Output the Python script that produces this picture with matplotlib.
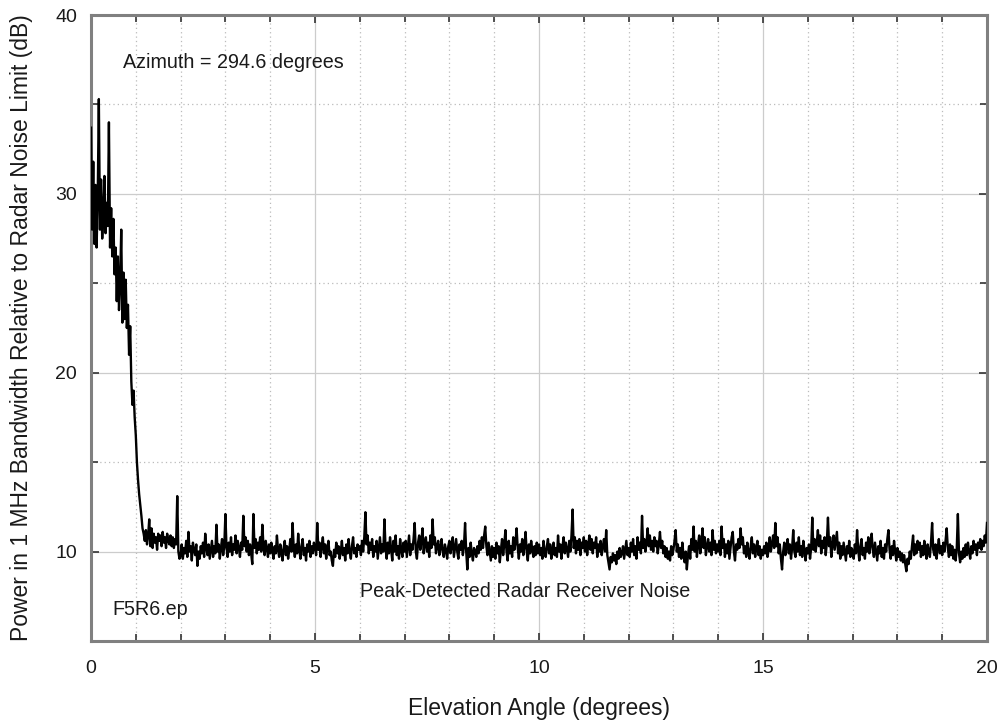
import numpy as np
import matplotlib
matplotlib.use("Agg")
import matplotlib.pyplot as plt
from matplotlib.ticker import MultipleLocator, FixedLocator

# Measured power (dB) sampled every 0.025 degrees from 0 to 20 degrees
power_db = [
    # 0.0 - 0.975
    33.7, 28.0, 31.8, 27.2, 30.5, 27.0, 29.8, 35.3, 28.0, 30.8,
    27.5, 29.0, 31.0, 27.8, 29.5, 28.2, 34.0, 27.0, 29.2, 26.5,
    28.6, 25.5, 27.0, 24.0, 26.5, 23.5, 25.0, 28.0, 22.8, 25.6,
    23.0, 25.2, 22.5, 23.8, 21.0, 22.6, 19.5, 18.2, 19.0, 17.5,
    # 1.0 - 1.975
    16.5, 15.0, 14.0, 13.2, 12.6, 12.0, 11.3, 11.0, 10.6, 11.2,
    10.4, 10.9, 11.8, 10.3, 11.3, 10.2, 11.0, 10.5, 10.8, 10.1,
    11.0, 10.6, 10.9, 10.3, 11.1, 10.5, 10.8, 10.2, 11.0, 10.6,
    10.4, 10.9, 10.3, 10.8, 10.2, 10.7, 10.4, 13.1, 10.0, 9.6,
    # 2.0 - 2.975
    9.8, 10.4, 9.6, 10.2, 9.9, 10.6, 9.7, 11.1, 10.0, 10.3,
    9.5, 10.5, 10.1, 9.8, 10.4, 9.2, 10.0, 9.6, 10.3, 9.9,
    10.5, 9.7, 11.0, 10.2, 9.8, 10.4, 9.6, 10.1, 10.6, 9.7,
    10.3, 9.9, 11.5, 10.0, 10.4, 9.6, 10.2, 10.7, 9.8, 10.3,
    # 3.0 - 3.975
    12.1, 10.2, 9.7, 10.5, 10.0, 10.8, 9.8, 10.4, 10.1, 10.9,
    9.9, 10.6, 10.2, 9.7, 10.5, 10.1, 12.0, 10.3, 10.8, 10.0,
    10.6, 9.8, 10.4, 9.9, 9.3, 12.1, 10.2, 10.7, 9.9, 10.5,
    10.1, 10.8, 10.0, 11.5, 10.3, 9.8, 10.6, 10.2, 9.7, 10.4,
    # 4.0 - 4.975
    9.9, 10.5, 10.0, 9.6, 10.3, 9.9, 10.9, 10.1, 9.7, 10.4,
    10.0, 9.5, 10.2, 10.6, 9.8, 10.3, 9.6, 10.1, 10.7, 10.0,
    11.6, 10.2, 9.7, 10.4, 9.9, 11.0, 10.1, 9.6, 10.3, 10.7,
    9.8, 10.2, 9.5, 10.4, 10.0, 10.6, 9.7, 10.3, 9.9, 10.5,
    # 5.0 - 5.975
    10.2, 9.8, 11.6, 10.1, 10.5, 9.7, 10.3, 10.8, 9.9, 10.4,
    9.6, 10.2, 10.6, 9.8, 10.0, 9.5, 9.2, 10.1, 9.7, 10.5,
    9.9, 10.3, 9.6, 10.0, 10.6, 9.8, 10.2, 9.5, 10.4, 9.9,
    10.7, 10.0, 9.6, 10.3, 10.8, 9.9, 10.2, 9.7, 10.4, 10.1,
    # 6.0 - 6.975
    10.3, 9.8, 10.6, 10.0, 10.8, 12.2, 10.4, 10.9, 9.9, 10.5,
    10.1, 10.7, 9.7, 10.3, 10.0, 10.6, 9.6, 10.2, 10.8, 9.9,
    10.4, 10.0, 11.8, 10.2, 9.6, 10.5, 9.9, 10.8, 10.1, 9.5,
    10.6, 10.0, 10.9, 9.8, 10.3, 9.6, 10.7, 10.1, 9.7, 10.5,
    # 7.0 - 7.975
    10.0, 10.6, 9.7, 10.3, 10.9, 9.8, 10.4, 10.1, 10.7, 11.6,
    10.0, 9.6, 10.5, 10.9, 10.1, 10.6, 11.3, 9.9, 10.4, 10.8,
    10.0, 10.5, 9.7, 10.9, 10.2, 11.8, 10.4, 10.8, 9.9, 10.3,
    10.6, 9.8, 10.2, 10.7, 10.0, 9.7, 10.4, 10.1, 9.6, 10.3,
    # 8.0 - 8.975
    10.6, 9.9, 10.3, 10.8, 9.7, 10.2, 10.7, 10.0, 9.6, 10.4,
    10.1, 10.6, 9.8, 10.3, 11.6, 10.0, 9.0, 10.2, 9.7, 10.5,
    9.9, 9.5, 10.2, 10.0, 9.7, 10.3, 9.9, 10.6, 10.1, 10.8,
    10.2, 10.9, 11.4, 10.3, 9.8, 10.5, 10.0, 9.5, 10.3, 9.7,
    # 9.0 - 9.975
    10.2, 9.6, 10.5, 9.9, 10.3, 9.4, 10.1, 10.7, 9.8, 10.4,
    11.2, 10.0, 9.5, 10.6, 9.9, 10.3, 9.7, 10.8, 10.1, 10.5,
    11.3, 10.2, 9.6, 10.4, 10.0, 10.7, 9.8, 10.3, 11.1, 10.0,
    9.5, 10.4, 9.9, 10.6, 10.1, 9.7, 10.3, 9.8, 10.5, 9.9,
    # 10.0 - 10.975
    10.4, 9.8, 10.2, 9.6, 10.6, 10.0, 9.7, 10.3, 10.7, 9.9,
    10.4, 9.6, 10.1, 10.5, 9.8, 10.2, 9.7, 10.9, 10.0, 10.4,
    9.6, 10.3, 10.8, 9.9, 10.5, 10.1, 9.7, 10.6, 10.0, 10.9,
    12.35, 10.2, 10.8, 9.9, 10.6, 10.1, 10.7, 9.8, 10.5, 10.2,
    # 11.0 - 11.975
    10.8, 10.0, 10.6, 9.8, 10.4, 10.9, 10.1, 10.7, 9.9, 10.5,
    10.2, 10.8, 9.7, 10.4, 10.0, 10.6, 9.8, 10.3, 10.7, 10.0,
    11.2, 9.8, 9.4, 9.0, 9.7, 9.4, 9.9, 9.5, 9.8, 9.3,
    10.0, 9.6, 10.2, 9.7, 9.9, 10.3, 9.6, 10.1, 10.6, 9.8,
    # 12.0 - 12.975
    10.2, 9.7, 10.5, 10.0, 10.7, 9.8, 10.3, 9.6, 10.8, 10.1,
    10.5, 9.9, 12.0, 10.2, 10.7, 10.0, 10.5, 11.3, 10.3, 10.9,
    10.1, 10.6, 10.0, 10.8, 10.3, 10.6, 9.9, 10.4, 11.1, 10.2,
    10.6, 9.9, 10.3, 9.7, 10.2, 9.6, 10.0, 9.5, 10.3, 9.8,
    # 13.0 - 13.975
    10.1, 10.6, 11.2, 10.0, 10.4, 9.7, 10.2, 9.6, 10.5, 9.8,
    9.4, 10.0, 9.0, 9.8, 10.3, 9.6, 10.7, 10.1, 11.4, 10.0,
    10.6, 9.7, 10.4, 10.9, 9.9, 10.5, 11.3, 10.2, 10.8, 9.8,
    10.3, 10.7, 10.0, 10.5, 9.8, 11.2, 10.1, 10.6, 9.9, 10.4,
    # 14.0 - 14.975
    10.0, 10.6, 9.8, 11.4, 10.2, 10.7, 9.7, 10.4, 9.9, 10.6,
    9.6, 10.2, 10.8, 11.1, 10.0, 9.5, 10.4, 10.1, 10.7, 10.2,
    11.3, 10.4, 10.8, 9.9, 10.3, 9.7, 10.5, 10.0, 9.6, 10.3,
    10.8, 9.9, 10.4, 9.7, 10.2, 10.6, 9.8, 10.3, 9.6, 10.1,
    # 15.0 - 15.975
    9.8, 10.3, 9.9, 10.5, 9.7, 10.1, 10.8, 10.0, 10.4, 10.9,
    10.2, 11.6, 10.3, 10.8, 9.9, 10.4, 9.6, 9.0, 10.0, 10.5,
    9.8, 10.3, 10.7, 9.9, 10.4, 9.6, 10.2, 11.2, 10.0, 9.7,
    10.5, 10.0, 10.8, 9.8, 10.3, 9.7, 10.6, 10.1, 9.5, 10.2,
    # 16.0 - 16.975
    9.9, 10.4, 9.6, 10.2, 11.9, 10.1, 10.7, 10.0, 10.5, 11.2,
    10.3, 10.9, 9.9, 10.6, 10.2, 10.8, 9.8, 10.5, 11.9, 10.3,
    10.8, 9.7, 10.4, 10.9, 10.1, 10.6, 11.1, 9.9, 10.5, 9.6,
    10.3, 9.8, 10.5, 10.0, 9.5, 10.3, 9.9, 10.6, 9.7, 10.2,
    # 17.0 - 17.975
    10.0, 9.6, 10.4, 9.9, 11.2, 10.1, 9.5, 10.3, 10.7, 9.8,
    10.2, 9.6, 10.5, 10.0, 10.8, 9.9, 10.4, 11.0, 10.1, 9.7,
    10.5, 10.0, 9.5, 10.3, 9.9, 10.6, 9.7, 10.2, 9.6, 10.4,
    10.0, 10.7, 11.2, 10.1, 9.6, 10.3, 9.8, 10.6, 10.0, 9.5,
    # 18.0 - 18.975
    10.2, 9.7, 10.0, 9.5, 9.9, 9.4, 9.8, 9.3, 8.9, 9.6,
    9.3, 10.0, 9.6, 10.3, 10.9, 9.8, 10.4, 9.9, 10.6, 10.1,
    10.5, 9.7, 10.3, 9.8, 10.6, 10.0, 9.6, 10.4, 10.0, 9.7,
    10.5, 11.6, 10.1, 9.8, 10.4, 9.6, 10.2, 10.7, 9.9, 10.3,
    # 19.0 - 20.0
    9.8, 10.5, 10.0, 10.6, 11.3, 10.2, 9.7, 10.4, 9.8, 10.3,
    9.6, 10.1, 9.5, 10.2, 12.1, 9.9, 9.4, 10.0, 9.6, 10.2,
    9.7, 10.4, 9.8, 10.5, 10.0, 9.6, 10.3, 9.9, 10.6, 10.1,
    10.4, 9.8, 10.5, 10.2, 10.7, 10.1, 10.6, 10.3, 10.9, 10.5,
    11.6,
]
elevation_deg = np.linspace(0.0, 20.0, len(power_db))

x_major_ticks = [0, 5, 10, 15, 20]
y_major_ticks = [10, 20, 30, 40]

title_text = "Azimuth = 294.6 degrees"
file_text = "F5R6.ep"
noise_text = "Peak-Detected Radar Receiver Noise"
x_label = "Elevation Angle (degrees)"
y_label = "Power in 1 MHz Bandwidth Relative to Radar Noise Limit (dB)"

plt.rcParams['font.family'] = ['Liberation Sans', 'DejaVu Sans']
text_color = '#1a1a1a'

fig = plt.figure(figsize=(10.03, 7.24), dpi=100)
ax = fig.add_axes([91 / 1003, 1 - 641 / 724, (987 - 91) / 1003, (641 - 15) / 724])

ax.set_xlim(0, 20)
ax.set_ylim(5, 40)

# grids
ax.xaxis.set_major_locator(FixedLocator(x_major_ticks))
ax.xaxis.set_minor_locator(MultipleLocator(1))
ax.yaxis.set_major_locator(FixedLocator(y_major_ticks))
ax.yaxis.set_minor_locator(MultipleLocator(5))
ax.grid(which='major', color='#cccccc', linestyle='-', linewidth=0.9)
ax.grid(which='minor', color='#bbbbbb', linestyle=(0, (1, 2.5)), linewidth=0.9)
ax.set_axisbelow(True)

ax.plot(elevation_deg, power_db, color='black', linewidth=1.7, zorder=3)

for sp in ax.spines.values():
    sp.set_color('#808080')
    sp.set_linewidth(2.2)

ax.tick_params(which='both', direction='in', top=True, right=True,
               color='#333333', width=1.2)
ax.tick_params(which='major', length=6)
ax.tick_params(which='minor', length=5)
ax.tick_params(axis='x', which='major', pad=14, labelsize=14, labelcolor=text_color)
ax.tick_params(axis='y', which='major', pad=10, labelsize=14, labelcolor=text_color)

ax.set_xlabel(x_label, fontsize=16.5, color=text_color, labelpad=14)
ax.set_ylabel(y_label, fontsize=16.5, color=text_color, labelpad=16)

ax.text(0.714, 37.37, title_text, fontsize=14.2, color=text_color, va='center', ha='left')
ax.text(0.47, 6.76, file_text, fontsize=14.2, color=text_color, va='center', ha='left')
ax.text(6.0, 7.77, noise_text, fontsize=14.2, color=text_color, va='center', ha='left')

fig.savefig('out.png', dpi=100)
